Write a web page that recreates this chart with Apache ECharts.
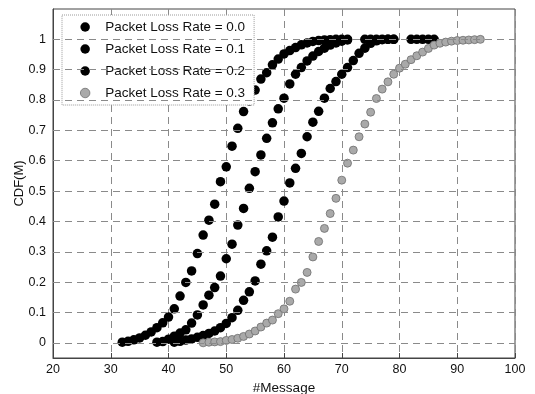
<!DOCTYPE html>
<html>
<head>
<meta charset="utf-8">
<script src="https://cdn.jsdelivr.net/npm/echarts@6/dist/echarts.min.js"></script>
<style>
html,body{margin:0;padding:0;background:#fff;}
#chart{width:535px;height:394px;}
</style>
</head>
<body>
<div id="chart"></div>
<script>
// ---- data ----
const seriesNames = ['Packet Loss Rate = 0.0','Packet Loss Rate = 0.1','Packet Loss Rate = 0.2','Packet Loss Rate = 0.3'];
const xTicks = [20,30,40,50,60,70,80,90,100];
const yTicks = [0,0.1,0.2,0.3,0.4,0.5,0.6,0.7,0.8,0.9,1];

const msg0 = [32,33,34,35,36,37,38,39,40,41,42,43,44,45,46,47,48,49,50,51,52,53,54,55,56,57,58,59,60,61,62,63,64,65,66,67,68,69,70,71];
const cdf0 = [0.002,0.005,0.010,0.016,0.025,0.036,0.050,0.066,0.085,0.112,0.154,0.199,0.237,0.294,0.355,0.404,0.457,0.531,0.580,0.648,0.707,0.762,0.797,0.833,0.869,0.890,0.916,0.935,0.952,0.963,0.973,0.982,0.988,0.993,0.996,0.998,0.999,1,1,1];

const msg1 = [38,39,40,41,42,43,44,45,46,47,48,49,50,51,52,53,54,55,56,57,58,59,60,61,62,63,64,65,66,67,68,69,70,71,74,75,76,77,78,79];
const cdf1 = [0.002,0.004,0.012,0.022,0.032,0.043,0.065,0.092,0.125,0.157,0.182,0.220,0.277,0.325,0.388,0.443,0.509,0.564,0.619,0.674,0.725,0.771,0.806,0.853,0.885,0.907,0.929,0.945,0.960,0.971,0.981,0.988,0.994,0.998,1,1,1,1,1,1];

const msg2 = [41,42,43,44,45,46,47,48,49,50,51,52,53,54,55,56,57,58,59,60,61,62,63,64,65,66,67,68,69,70,71,72,73,74,75,76,77,78,79,82,83,84,85,86];
const cdf2 = [0.002,0.005,0.009,0.013,0.018,0.024,0.031,0.039,0.050,0.064,0.083,0.107,0.140,0.168,0.204,0.259,0.303,0.348,0.415,0.467,0.527,0.575,0.624,0.679,0.727,0.763,0.806,0.838,0.861,0.885,0.907,0.930,0.954,0.971,0.987,0.995,0.999,1,1,1,1,1,1,1];

const msg3 = [46,47,48,49,50,51,52,53,54,55,56,57,58,59,60,61,62,63,64,65,66,67,68,69,70,71,72,73,74,75,76,77,78,79,80,81,82,83,84,85,86,87,88,89,90,91,92,93,94];
const cdf3 = [0.000,0.002,0.003,0.004,0.008,0.011,0.015,0.021,0.029,0.039,0.052,0.065,0.075,0.096,0.112,0.137,0.177,0.199,0.232,0.283,0.334,0.377,0.426,0.476,0.536,0.592,0.635,0.679,0.721,0.760,0.805,0.836,0.860,0.885,0.905,0.918,0.933,0.946,0.958,0.970,0.981,0.987,0.991,0.994,0.996,0.997,0.998,0.999,1];

// ---- build ----
const pairs = (xs, ys) => xs.map((x, i) => [x, ys[i]]);
const allData = [pairs(msg0,cdf0), pairs(msg1,cdf1), pairs(msg2,cdf2), pairs(msg3,cdf3)];

const FONT = 'Liberation Sans, Arial, sans-serif';
const gridLine = {type:[7,5], color:'#8a8a8a', width:1};

const scatterSeries = allData.map((d, i) => ({
  name: seriesNames[i],
  type: 'scatter',
  data: d,
  z: 3,
  symbol: 'circle',
  symbolSize: i === 3 ? 8 : 9.5,
  itemStyle: i === 3
    ? {color:'#a9a9a9', borderColor:'#6e6e6e', borderWidth:0.8, opacity:1}
    : {color:'#000', opacity:1}
}));

const gridSeries = {
  type: 'line',
  data: [],
  z: 1,
  silent: true,
  markLine: {
    silent: true,
    symbol: 'none',
    animation: false,
    label: {show:false},
    lineStyle: gridLine,
    data: yTicks.map(v => ({yAxis: v}))
  }
};

const chart = echarts.init(document.getElementById('chart'), null, {renderer:'canvas'});
chart.setOption({
  animation: false,
  backgroundColor: '#fff',
  textStyle: {fontFamily: FONT, color:'#111'},
  grid: {left:53, right:20, top:9, bottom:36, show:true, borderColor:'#444', borderWidth:1,
    backgroundColor:'transparent', containLabel:false, outerBoundsMode:'none'},
  legend: {
    data: seriesNames.map((n, i) => ({name: n, itemStyle: i === 3 ? {color:'#a9a9a9', borderColor:'#6e6e6e', borderWidth:0.8} : undefined})),
    orient: 'vertical',
    left: 62, top: 15,
    padding: [5,9,5,18],
    itemWidth: 30, itemHeight: 9.5, itemGap: 8,
    icon: 'circle',
    backgroundColor: '#fff',
    borderColor: '#9a9a9a', borderWidth: 1, borderType: 'dotted',
    textStyle: {fontFamily: FONT, fontSize: 13.5, color:'#111'}
  },
  xAxis: {
    type: 'value', min: 20, max: 100, interval: 10,
    name: '#Message', nameLocation: 'middle', nameGap: 21,
    nameTextStyle: {fontFamily: FONT, fontSize: 13.5, color:'#111'},
    axisLine: {show:true, onZero:false, lineStyle:{color:'#444', width:1}},
    axisTick: {show:true, inside:true, length:5, lineStyle:{color:'#444'}},
    axisLabel: {fontFamily: FONT, fontSize: 12.5, color:'#111', margin: 5},
    splitLine: {show:true, lineStyle: gridLine}
  },
  yAxis: {
    type: 'value', min: -0.05, max: 1.1,
    name: 'CDF(M)', nameLocation: 'middle', nameGap: 27, nameRotate: 90, nameMoveOverlap: false,
    nameTextStyle: {fontFamily: FONT, fontSize: 13, color:'#111'},
    axisLine: {show:true, onZero:false, lineStyle:{color:'#444', width:1}},
    axisTick: {show:true, inside:true, length:5, customValues: yTicks, lineStyle:{color:'#444'}},
    axisLabel: {fontFamily: FONT, fontSize: 12.5, color:'#111', margin: 7, customValues: yTicks,
      formatter: v => String(Math.round(v*10)/10)},
    splitLine: {show:false}
  },
  series: [gridSeries].concat(scatterSeries)
});
</script>
</body>
</html>
